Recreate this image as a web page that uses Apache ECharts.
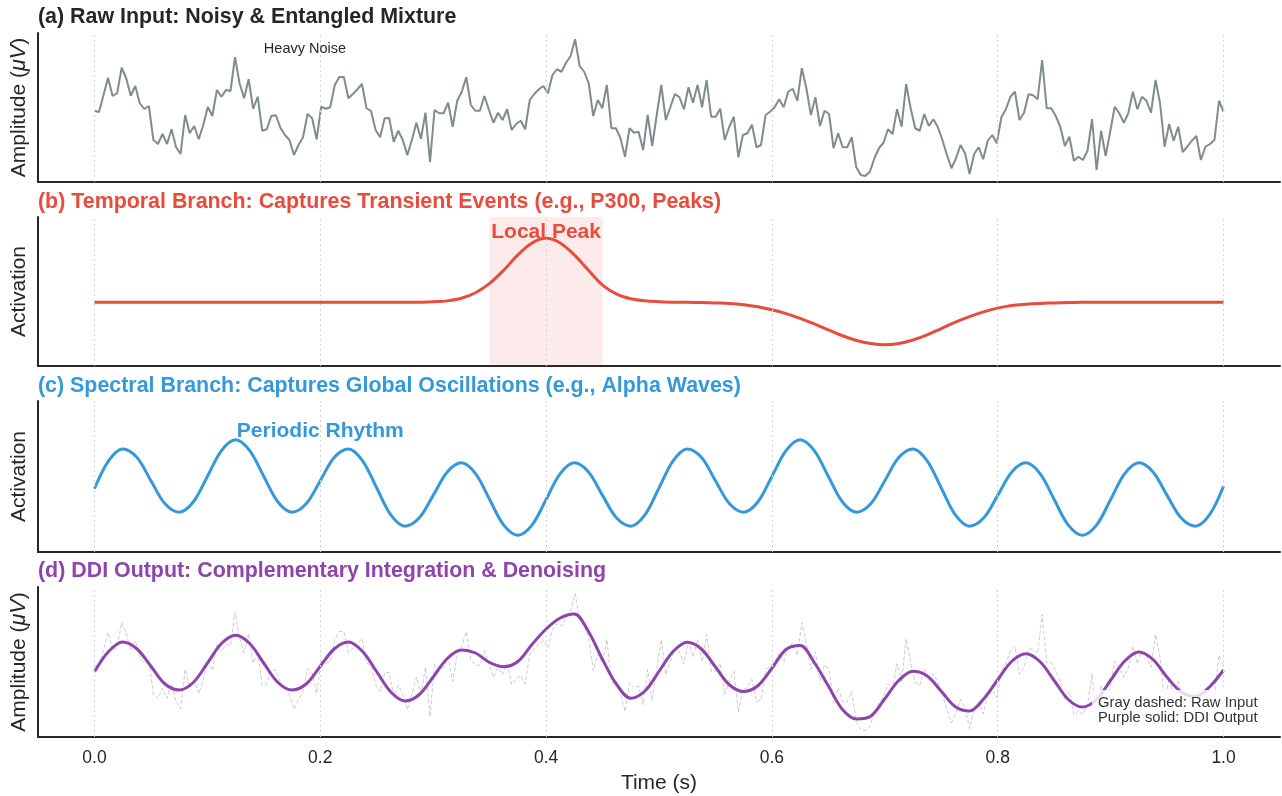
<!DOCTYPE html>
<html>
<head>
<meta charset="utf-8">
<script src="https://cdn.jsdelivr.net/npm/echarts@6.0.0/dist/echarts.min.js"></script>
<style>
html,body{margin:0;padding:0;background:#fff;}
#chart{width:1282px;height:796px;}
</style>
</head>
<body>
<div id="chart"></div>
<script>
// ---------------- DATA ----------------
// Raw noisy input, 250 samples over 0..1 s
const rawInput = [
-0.13,-0.18,0.50,1.19,0.46,0.57,1.59,1.17,0.47,0.86,
0.17,-0.06,0.06,-1.30,-1.46,-1.06,-1.46,-0.87,-1.59,-1.86,
-0.30,-1.03,-0.74,-1.27,-0.70,0.02,-0.34,0.70,0.43,0.70,
0.66,2.01,0.97,0.37,1.13,-0.05,0.43,-0.93,-0.87,-0.34,
-0.31,-0.81,-1.10,-1.30,-1.90,-1.50,-1.19,-0.26,-0.43,-1.27,
0.03,-0.05,0.01,0.90,1.22,1.22,0.37,0.54,0.73,0.94,
-0.03,-0.14,-0.90,
-1.19,-0.43,-0.42,-1.37,-0.93,-1.30,-1.91,-1.30,-0.61,-1.25,
-0.21,-2.18,-0.10,-0.23,-0.23,0.19,-0.77,0.27,0.63,1.21,
0.10,-0.13,-0.13,0.46,-0.10,-0.61,-0.21,-0.50,-0.07,-0.90,
-0.66,-0.53,-0.87,0.30,0.54,0.73,0.86,0.57,1.30,1.53,
1.43,1.79,2.06,2.73,1.66,1.43,0.97,-0.34,0.30,-0.03,
0.90,-0.83,-0.83,-1.23,-1.97,-0.83,-1.01,-0.97,-1.70,-0.30,
-1.54,-0.30,0.90,-0.50,
0.01,0.54,0.41,-0.07,0.81,0.19,0.90,0.01,1.10,-0.37,
-0.37,-0.05,-1.30,-0.77,-0.37,-1.99,-1.10,-1.03,-0.69,-1.59,
-1.50,-0.30,-0.17,0.01,0.33,0.01,0.63,0.75,0.27,1.57,
0.77,-0.30,0.41,-0.74,-0.13,-0.26,-1.63,-1.03,-1.59,-1.59,
-1.19,-2.39,-2.70,-2.74,-2.57,-2.03,-1.63,-1.41,-0.87,-1.06,
-0.07,-0.77,0.94,-0.03,-0.83,-0.93,-0.26,-0.74,-0.47,-0.79,
-1.30,-1.90,-2.43,
-2.03,-1.50,-1.83,-2.66,-1.86,-1.59,-2.07,-1.33,-1.10,-1.43,
-0.39,-0.07,0.43,0.63,-0.50,-0.21,0.53,0.49,0.33,1.90,
-0.03,-0.03,-0.34,-0.77,-1.54,-1.17,-2.13,-1.97,-2.10,-1.73,
-0.47,-2.50,-0.93,-1.94,-0.97,0.03,-0.23,-0.61,-0.23,0.63,
-0.07,0.43,0.27,-0.21,1.10,0.17,-1.57,-0.66,-1.33,-0.77,
-1.78,-1.57,-1.33,-1.14,-2.10,-1.57,-1.46,-1.30,0.27,-0.17
];

// Smooth curves sampled every 0.0125 s (81 samples)
const temporalBranch = [
0,0,0,0,0,0,0,0,0,0,
0,0,0,0,0,0,0,0,0,0,
0,0,0,0,0.01,0.03,0.09,0.22,0.44,0.75,
1.11,1.39,1.50,1.39,1.11,0.75,0.40,0.19,0.08,0.03,
0.01,0.00,0.00,-0.01,-0.02,-0.03,-0.06,-0.11,-0.18,-0.27,
-0.38,-0.51,-0.65,-0.79,-0.90,-0.97,-1.00,-0.97,-0.89,-0.77,
-0.62,-0.47,-0.34,-0.23,-0.14,-0.08,-0.05,-0.03,-0.02,-0.01,
0,0,0,0,0,0,0,0,0,0,
0
];

const spectralBranch = [
-0.02,0.78,1.12,0.88,0.21,-0.45,-0.69,-0.40,0.33,1.07,
1.38,1.07,0.33,-0.40,-0.69,-0.45,0.21,0.88,1.12,0.78,
0.00,-0.77,-1.09,-0.86,-0.21,0.46,0.72,0.41,-0.33,-1.06,
-1.35,-1.06,-0.33,0.41,0.72,0.46,-0.21,-0.86,-1.09,-0.77,
0.00,0.78,1.12,0.88,0.21,-0.45,-0.69,-0.40,0.33,1.07,
1.38,1.07,0.33,-0.40,-0.69,-0.45,0.21,0.88,1.12,0.78,
0.00,-0.77,-1.09,-0.86,-0.21,0.46,0.72,0.41,-0.33,-1.06,
-1.35,-1.06,-0.33,0.41,0.72,0.46,-0.21,-0.86,-1.09,-0.77,
0.05
];

const ddiOutput = [
-0.39,0.42,0.80,0.53,-0.17,-0.88,-1.12,-0.82,-0.05,0.74,
1.07,0.74,-0.05,-0.82,-1.12,-0.88,-0.17,0.53,0.80,0.42,
-0.39,-1.20,-1.56,-1.31,-0.60,0.14,0.48,0.36,-0.02,-0.19,
0.02,0.70,1.32,1.76,1.92,1.22,0.10,-0.90,-1.45,-1.16,
-0.38,0.42,0.79,0.52,-0.20,-0.92,-1.18,-0.95,-0.25,0.50,
0.66,-0.02,-0.96,-1.90,-2.28,-2.17,-1.47,-0.73,-0.37,-0.56,
-1.17,-1.79,-1.96,-1.48,-0.71,0.03,0.33,0.01,-0.74,-1.50,
-1.80,-1.50,-0.73,0.04,0.40,0.10,-0.61,-1.20,-1.38,-1.00,
-0.32
];

const tickLabels = [0.0, 0.2, 0.4, 0.6, 0.8, 1.0];
const peakSpan = [0.35, 0.45];

// ---------------- BUILD ----------------
const FONT = '"Liberation Sans", Arial, Helvetica, sans-serif';
const INK = '#262626';
const SMOOTH = 0.34;
const rawPairs = rawInput.map((v, i) => [i / (rawInput.length - 1), v]);
const smoothPairs = arr => arr.map((v, j) => [j / (arr.length - 1), v]);

const grids = [
  {left: 38, right: 2, top: 33, height: 149},
  {left: 38, right: 2, top: 217, height: 149},
  {left: 38, right: 2, top: 401, height: 151},
  {left: 38, right: 2, top: 587, height: 150}
];
const yRanges = [[-2.98, 2.98], [-1.5, 2.0], [-1.83, 2.49], [-3.0, 3.0]];
const yNames = ['Amplitude ({i|μV})', 'Activation', 'Activation', 'Amplitude ({i|μV})'];

const xAxes = grids.map((g, i) => ({
  type: 'value', gridIndex: i, min: -0.05, max: 1.05,
  axisLine: {show: true, onZero: false, lineStyle: {color: INK, width: 2}},
  axisTick: {show: false},
  splitLine: {show: false},
  axisLabel: {
    show: i === 3, customValues: tickLabels, margin: 12,
    formatter: v => Number(v).toFixed(1),
    fontSize: 17.5, color: INK, fontFamily: FONT
  },
  name: i === 3 ? 'Time (s)' : '',
  nameLocation: 'middle', nameGap: 36,
  nameTextStyle: {fontSize: 21, color: INK, fontFamily: FONT}
}));

const yAxes = grids.map((g, i) => ({
  type: 'value', gridIndex: i, min: yRanges[i][0], max: yRanges[i][1],
  axisLine: {show: true, onZero: false, lineStyle: {color: INK, width: 2}},
  axisTick: {show: false},
  axisLabel: {show: false},
  splitLine: {show: false},
  name: yNames[i], nameLocation: 'middle', nameRotate: 90, nameGap: 8,
  nameTextStyle: {
    fontSize: 21, color: INK, fontFamily: FONT,
    rich: {i: {fontStyle: 'italic', fontSize: 21.5, color: INK, fontFamily: FONT}}
  }
}));

const series = [];
// dotted vertical grid lines
grids.forEach((g, i) => {
  series.push({
    type: 'line', xAxisIndex: i, yAxisIndex: i, data: [], z: 1, silent: true,
    markLine: {
      silent: true, symbol: ['none', 'none'], label: {show: false}, animation: false,
      lineStyle: {type: [2, 3], color: '#d4d4d4', width: 1},
      data: tickLabels.map(x => ({xAxis: x}))
    }
  });
});
// highlighted span in (b)
series.push({
  type: 'line', xAxisIndex: 1, yAxisIndex: 1, data: [], z: 1, silent: true,
  markArea: {
    silent: true, itemStyle: {color: 'rgba(231,76,60,0.11)'},
    data: [[{xAxis: peakSpan[0]}, {xAxis: peakSpan[1]}]]
  }
});

function note(coord, text, color, size, bold, pos) {
  return {
    coord: coord, symbol: 'circle', symbolSize: 0.1,
    itemStyle: {color: 'rgba(0,0,0,0)'},
    label: {
      show: true, position: pos, distance: 0, formatter: text,
      color: color, fontSize: size, fontWeight: bold ? 'bold' : 'normal', fontFamily: FONT
    }
  };
}

series.push({
  type: 'line', xAxisIndex: 0, yAxisIndex: 0, data: rawPairs, z: 3,
  showSymbol: false, silent: true,
  lineStyle: {color: '#7f8c8d', width: 2},
  markPoint: {silent: true, animation: false, data: [note([0.15, 2.34], 'Heavy Noise', INK, 14.5, false, 'right')]}
});
series.push({
  type: 'line', xAxisIndex: 1, yAxisIndex: 1, data: smoothPairs(temporalBranch), z: 3,
  smooth: SMOOTH, showSymbol: false, silent: true,
  lineStyle: {color: '#e74c3c', width: 3},
  markPoint: {silent: true, animation: false, data: [note([0.4, 1.65], 'Local Peak', '#e74c3c', 21, true, 'inside')]}
});
series.push({
  type: 'line', xAxisIndex: 2, yAxisIndex: 2, data: smoothPairs(spectralBranch), z: 3,
  smooth: SMOOTH, showSymbol: false, silent: true,
  lineStyle: {color: '#3498db', width: 3},
  markPoint: {silent: true, animation: false, data: [note([0.2, 1.63], 'Periodic Rhythm', '#3498db', 21, true, 'inside')]}
});
series.push({
  type: 'line', xAxisIndex: 3, yAxisIndex: 3, data: rawPairs, z: 2,
  showSymbol: false, silent: true,
  lineStyle: {color: 'rgba(170,170,170,0.6)', width: 1, type: [4, 2]}
});
series.push({
  type: 'line', xAxisIndex: 3, yAxisIndex: 3, data: smoothPairs(ddiOutput), z: 3,
  smooth: SMOOTH, showSymbol: false, silent: true,
  lineStyle: {color: '#8e44ad', width: 3}
});

const titles = [
  ['(a) Raw Input: Noisy & Entangled Mixture', INK, 17],
  ['(b) Temporal Branch: Captures Transient Events (e.g., P300, Peaks)', '#e74c3c', 202],
  ['(c) Spectral Branch: Captures Global Oscillations (e.g., Alpha Waves)', '#3498db', 386],
  ['(d) DDI Output: Complementary Integration & Denoising', '#8e44ad', 571]
];
const graphic = titles.map(t => ({
  type: 'text', x: 38, y: t[2], z: 100, silent: true,
  style: {text: t[0], fill: t[1], font: 'bold 21.4px ' + FONT, verticalAlign: 'middle', align: 'left'}
}));
graphic.push({
  type: 'text', x: 1092, y: 690, z: 100, silent: true,
  style: {
    text: 'Gray dashed: Raw Input\nPurple solid: DDI Output',
    fill: '#333', font: '14.8px ' + FONT, lineHeight: 15.5,
    backgroundColor: 'rgba(255,255,255,0.8)', padding: [5, 6, 5, 6], borderRadius: 4,
    align: 'left', verticalAlign: 'top'
  }
});

const chart = echarts.init(document.getElementById('chart'), null, {renderer: 'canvas'});
chart.setOption({
  animation: false,
  backgroundColor: '#ffffff',
  grid: grids,
  xAxis: xAxes,
  yAxis: yAxes,
  series: series,
  graphic: graphic
});
</script>
</body>
</html>
